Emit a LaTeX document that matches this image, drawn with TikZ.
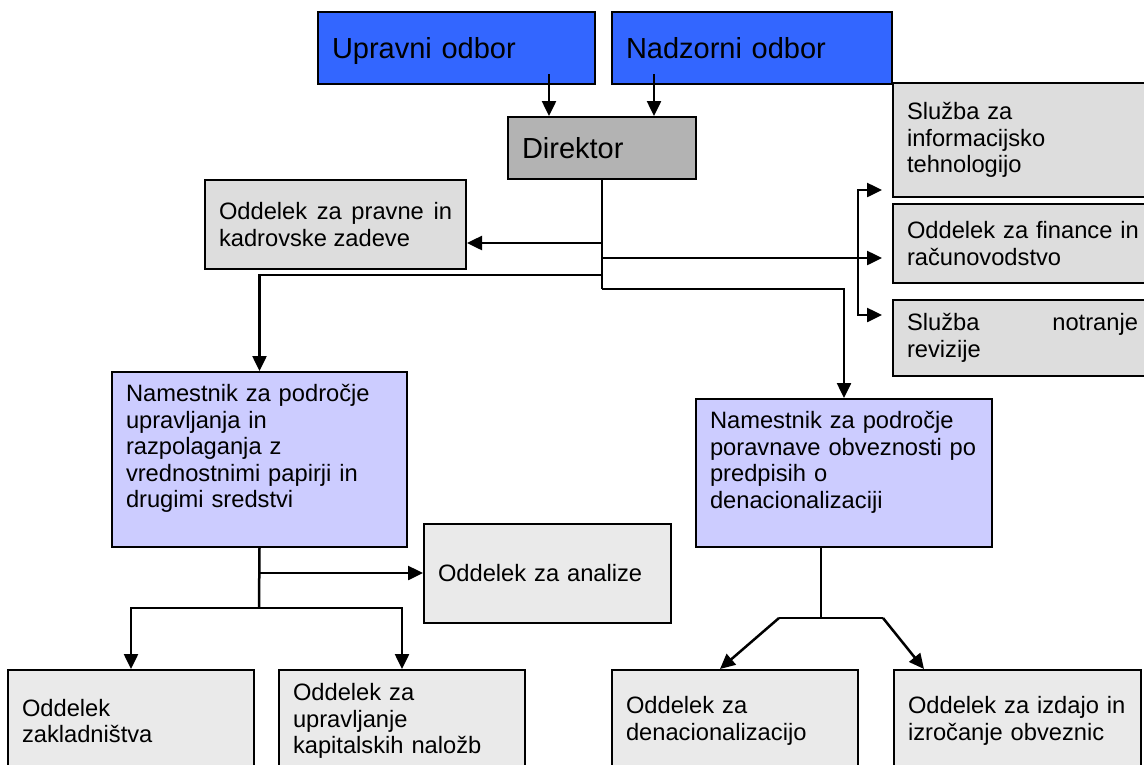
\documentclass[tikz,border=0pt]{standalone}
\usepackage{fontspec}
\setmainfont{Liberation Sans}
\usetikzlibrary{arrows.meta}
\definecolor{odborblue}{HTML}{3366FF}
\definecolor{dirgray}{HTML}{B3B3B3}
\definecolor{namlila}{HTML}{CCCCFF}
\definecolor{oddgray}{HTML}{DDDDDD}
\definecolor{oddlight}{HTML}{EAEAEA}

\begin{document}
\begin{tikzpicture}[x=1pt,y=-1pt,
    box/.style={draw,line width=2pt,rectangle,inner xsep=14pt,inner ysep=0pt,
      align=left,font=\fontsize{23.7}{26.5}\selectfont},
    big/.style={font=\fontsize{29}{33}\selectfont},
    arr/.style={line width=2.5pt,line join=miter,-{Triangle[length=15pt,width=14pt]}},
    ln/.style={line width=2.5pt}]
    \useasboundingbox (0,0) rectangle (1144,764);
    \clip (0,0) rectangle (1144,764);

    % 上层：两个委员会和主任
    \node[box,big,fill=odborblue,text width=249pt,minimum height=72pt] (UO) at (456.5,48) {\rule[-6.1pt]{0pt}{32.3pt}Upravni odbor};
    \node[box,big,fill=odborblue,text width=252pt,minimum height=72pt] (NO) at (752,48) {\rule[-6.1pt]{0pt}{32.3pt}Nadzorni odbor};
    \node[box,big,fill=dirgray,text width=160pt,minimum height=62pt] (DIR) at (602,148) {\rule[-6.1pt]{0pt}{32.3pt}Direktor};

    % 主任下属部门
    \node[box,fill=oddgray,text width=233pt,minimum height=89pt,align=justify] (PR) at (335.5,224.5) {Oddelek za pravne in kadrovske zadeve};
    \node[box,fill=oddgray,text width=240pt,minimum height=114pt] (IT) at (1027,140) {Služba za\\informacijsko\\tehnologijo};
    \node[box,fill=oddgray,text width=240pt,minimum height=79pt] (FIN) at (1027,243.5) {Oddelek za finance in\\računovodstvo};
    \node[box,fill=oddgray,text width=231pt,minimum height=76pt] (REV) at (1022.5,338) {Služba\hfill notranje\\revizije};

    % 两位副主任
    \node[box,fill=namlila,text width=267pt,minimum height=175pt] (N1) at (259.5,459.5) {Namestnik za področje\\upravljanja in\\razpolaganja z\\vrednostnimi papirji in\\drugimi sredstvi\\~};
    \node[box,fill=namlila,text width=268pt,minimum height=148pt] (N2) at (844,473) {Namestnik za področje\\poravnave obveznosti po\\predpisih o\\denacionalizaciji\\~};

    % 底层部门
    \node[box,fill=oddlight,text width=219pt,minimum height=99pt] (AN) at (547.5,573.5) {Oddelek za analize};
    \node[box,fill=oddlight,text width=218pt,minimum height=102pt] (ZAK) at (131,721) {Oddelek\\zakladništva};
    \node[box,fill=oddlight,text width=218pt,minimum height=102pt] (KN) at (402,721) {Oddelek za\\upravljanje\\kapitalskih naložb};
    \node[box,fill=oddlight,text width=218pt,minimum height=102pt] (DN) at (735,721) {Oddelek za\\denacionalizacijo};
    \node[box,fill=oddlight,text width=219pt,minimum height=102pt] (IO) at (1017.5,721) {Oddelek za izdajo in\\izročanje obveznic};

    % 连接点
    \coordinate (u1) at (549,74);
    \coordinate (n1) at (654,74);
    \coordinate (t1) at (602,243);
    \coordinate (t2) at (602,275);
    \coordinate (t3) at (602,258);
    \coordinate (t4) at (602,289);
    \coordinate (b) at (858,258);
    \coordinate (s1) at (259,573);
    \coordinate (s2) at (259,608);
    \coordinate (r0) at (821,547);
    \coordinate (r1) at (821,618);
    \coordinate (rl) at (779,618);
    \coordinate (rr) at (883,618);

    % 箭头
    \draw[arr] (u1) -- (u1 |- DIR.north);
    \draw[arr] (n1) -- (n1 |- DIR.north);
    \draw[ln] (DIR.south) -- (t4);
    \draw[arr] (t1) -- (t1 -| PR.east);
    \draw[arr] (t2) -| (N1.north);
    \draw[arr,shorten >=10pt] (t3) -- (t3 -| REV.west);
    \draw[arr,shorten >=10pt] (b) |- ([yshift=-50pt]IT.west);
    \draw[arr,shorten >=10pt] (b) |- ([yshift=23pt]REV.west);
    \draw[arr] (t4) -| (N2.north);
    \draw[ln] (N1.south) -- (s2);
    \draw[arr] (s1) -- (s1 -| AN.west);
    \draw[arr] (s2) -| (ZAK.north);
    \draw[arr] (s2) -| (KN.north);
    \draw[line width=1.2pt] (r0) -- (r1);
    \draw[ln] (rl) -- (rr);
    \draw[arr] (rl) -- ([xshift=-15pt]DN.north);
    \draw[arr] (rr) -- ([xshift=-93.5pt]IO.north);
\end{tikzpicture}
\end{document}
